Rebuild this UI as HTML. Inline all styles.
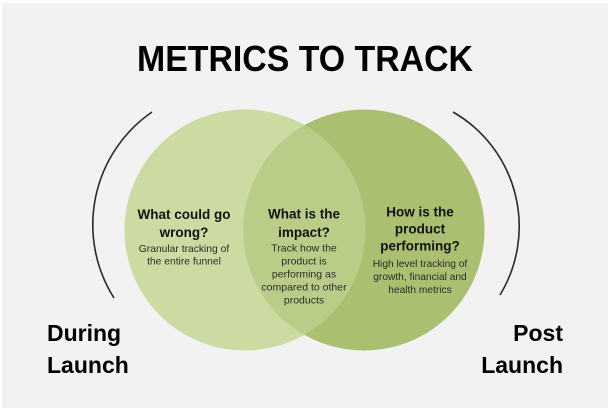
<!DOCTYPE html>
<html>
<head>
<meta charset="utf-8">
<style>
  html,body{margin:0;padding:0;background:#ffffff;}
  body{width:608px;height:411px;overflow:hidden;}
  svg{display:block;}
  text{font-family:"Liberation Sans",sans-serif;}
</style>
</head>
<body>
<svg width="608" height="411" viewBox="0 0 608 411" xmlns="http://www.w3.org/2000/svg">
  <defs>
    <clipPath id="clipL"><circle cx="245" cy="230" r="120.5"/></clipPath>
  </defs>
  <rect x="0" y="0" width="608" height="411" fill="#ffffff"/>
  <rect x="2" y="3" width="606" height="405" fill="#f2f2f2"/>

  <!-- Title -->
  <text x="305" y="71" text-anchor="middle" font-size="36" font-weight="bold" fill="#000" textLength="336" lengthAdjust="spacingAndGlyphs">METRICS TO TRACK</text>

  <!-- Circles -->
  <circle cx="245" cy="230" r="120.5" fill="#ccdba1"/>
  <circle cx="364" cy="230" r="120.5" fill="#aabf70"/>
  <circle cx="364" cy="230" r="120.5" fill="#bacd88" clip-path="url(#clipL)"/>

  <!-- Arcs -->
  <path d="M152,112 A137,137 0 0,0 114,298" fill="none" stroke="#2a2a2a" stroke-width="1.6"/>
  <path d="M453,112 A132,132 0 0,1 500,295" fill="none" stroke="#2a2a2a" stroke-width="1.6"/>

  <!-- Left circle text -->
  <g text-anchor="middle" fill="#111">
    <text x="184" y="219" font-size="13.5" font-weight="bold">What could go</text>
    <text x="184" y="237" font-size="13.5" font-weight="bold">wrong?</text>
  </g>
  <g text-anchor="middle" fill="#2b2b2b" font-size="10.3">
    <text x="184" y="252">Granular tracking of</text>
    <text x="184" y="264.5">the entire funnel</text>
  </g>

  <!-- Middle text -->
  <g text-anchor="middle" fill="#111">
    <text x="304" y="218.5" font-size="13.5" font-weight="bold">What is the</text>
    <text x="304" y="237" font-size="13.5" font-weight="bold">impact?</text>
  </g>
  <g text-anchor="middle" fill="#2b2b2b" font-size="10.5">
    <text x="304" y="251.5">Track how the</text>
    <text x="304" y="264.5">product is</text>
    <text x="304" y="277.5">performing as</text>
    <text x="304" y="290.5">compared to other</text>
    <text x="304" y="303.5">products</text>
  </g>

  <!-- Right circle text -->
  <g text-anchor="middle" fill="#111">
    <text x="420" y="216.5" font-size="13.5" font-weight="bold">How is the</text>
    <text x="420" y="233.5" font-size="13.5" font-weight="bold">product</text>
    <text x="420" y="250.5" font-size="13.5" font-weight="bold">performing?</text>
  </g>
  <g text-anchor="middle" fill="#2b2b2b" font-size="10.2">
    <text x="420" y="267">High level tracking of</text>
    <text x="420" y="280">growth, financial and</text>
    <text x="420" y="293">health metrics</text>
  </g>

  <!-- Side labels -->
  <g font-size="23" font-weight="bold" fill="#000">
    <text x="47" y="341">During</text>
    <text x="47" y="373">Launch</text>
    <text x="563" y="341" text-anchor="end">Post</text>
    <text x="563" y="373" text-anchor="end">Launch</text>
  </g>
</svg>
</body>
</html>
